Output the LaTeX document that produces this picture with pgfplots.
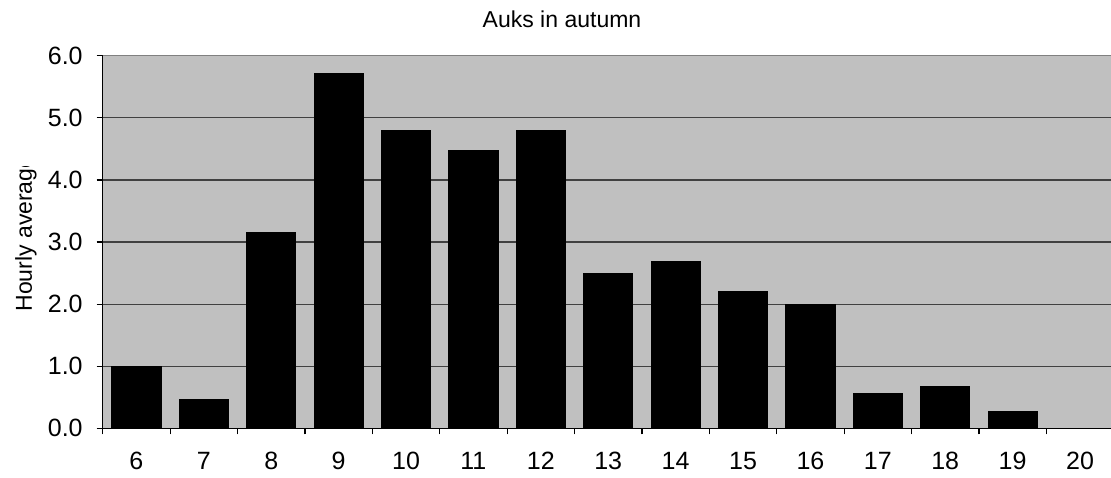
\documentclass[border=0pt]{standalone}
\usepackage{fontspec}
\setmainfont{Liberation Sans}
\usepackage{pgfplots}
\pgfplotsset{compat=1.18}
\definecolor{plotgray}{RGB}{192,192,192}
\definecolor{gridgray}{RGB}{64,64,64}
\begin{document}
\begin{tikzpicture}
  \useasboundingbox (0,0) rectangle (555.5pt,238.5pt);
  \begin{axis}[
      at={(51.35pt,24.35pt)}, anchor=south west,
      scale only axis, width=505.5pt, height=186.3pt,
      xmin=-0.5, xmax=14.5, ymin=0, ymax=6,
      axis background/.style={fill=plotgray},
      axis x line*=bottom, axis y line*=left,
      axis line style={black, line width=0.6pt},
      xtick={0,...,14},
      xticklabels={6,7,8,9,10,11,12,13,14,15,16,17,18,19,20},
      minor xtick={-0.5,0.5,...,13.5},
      x tick style={draw=none},
      minor x tick style={draw=black, line width=0.6pt},
      minor tick length=3pt,
      ytick={0,1,...,6},
      y tick style={black, line width=0.6pt},
      major tick length=3pt,
      tick align=outside,
      ymajorgrids,
      major grid style={gridgray, line width=0.6pt},
      /pgf/number format/assume math mode=true,
      tick label style={font=\fontsize{12.5}{14}\selectfont},
      xticklabel style={yshift=-5.5pt},
      yticklabel style={xshift=-3.5pt, /pgf/number format/.cd, fixed, fixed zerofill, precision=1},
      clip=false,
    ]
    \addplot[ybar, bar width=24.6pt, fill=black, draw=black] coordinates {
      (0,1.00) (1,0.47) (2,3.16) (3,5.72) (4,4.80) (5,4.48) (6,4.80)
      (7,2.49) (8,2.69) (9,2.21) (10,2.00) (11,0.56) (12,0.68) (13,0.27) (14,0)
    };
    \draw[gray, line width=0.6pt] (rel axis cs:0,1) -- (rel axis cs:1,1);
  \end{axis}
  \node[font=\fontsize{11.5}{13}\selectfont] at (281pt,229pt) {Auks in autumn};
  \begin{scope}
    \clip (0,0) rectangle (50pt,155pt);
    \node[rotate=90, anchor=west, inner sep=0pt, font=\fontsize{11.5}{13}\selectfont]
      at (13pt,82.5pt) {Hourly average};
  \end{scope}
\end{tikzpicture}
\end{document}
